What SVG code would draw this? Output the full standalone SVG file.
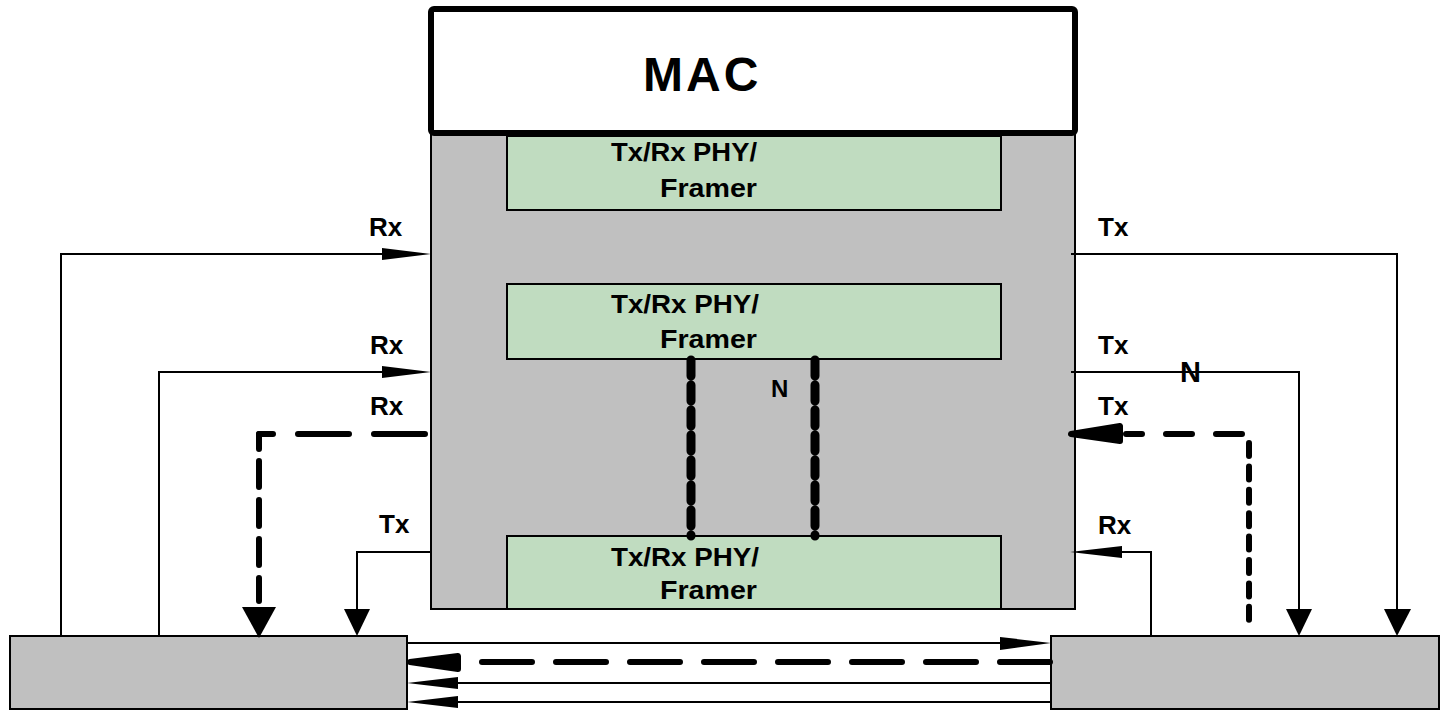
<svg xmlns="http://www.w3.org/2000/svg" width="1441" height="710" viewBox="0 0 1441 710">
<style>
.t{font-family:"Liberation Sans",Arial,sans-serif;font-weight:bold;fill:#000}
.lbl{font-size:26px}
.box{font-size:26px}
.gray{fill:#c0c0c0;stroke:#000;stroke-width:2}
.green{fill:#c0dcc0;stroke:#000;stroke-width:2}
.ln{fill:none;stroke:#000;stroke-width:2}
.dash{fill:none;stroke:#000;stroke-width:6;stroke-linecap:round}
.bead{fill:none;stroke:#000;stroke-width:9;stroke-linecap:round;stroke-dasharray:16 9}
.ah{fill:#000;stroke:none}
.ahr{fill:#000;stroke:#000;stroke-width:6;stroke-linejoin:round}
</style>
<rect width="1441" height="710" fill="#fff"/>
<g id="phy-container">
<rect class="gray" x="431" y="120" width="644" height="489"/>
</g>
<g id="mac">
<rect x="431" y="9" width="644" height="124" rx="3" fill="#fff" stroke="#000" stroke-width="6"/>
<text class="t" x="643" y="91" font-size="48" letter-spacing="3">MAC</text>
</g>
<g id="phy1">
<rect class="green" x="507" y="136" width="494" height="74"/>
<text class="t box" x="611" y="161" textLength="146" lengthAdjust="spacingAndGlyphs">Tx/Rx PHY/</text>
<text class="t box" x="660" y="197" textLength="97" lengthAdjust="spacingAndGlyphs">Framer</text>
</g>
<g id="phy2">
<rect class="green" x="507" y="284" width="494" height="75"/>
<text class="t box" x="611" y="313" textLength="148" lengthAdjust="spacingAndGlyphs">Tx/Rx PHY/</text>
<text class="t box" x="660" y="348" textLength="97" lengthAdjust="spacingAndGlyphs">Framer</text>
</g>
<g id="phy3">
<rect class="green" x="507" y="536" width="494" height="73"/>
<text class="t box" x="611" y="566" textLength="148" lengthAdjust="spacingAndGlyphs">Tx/Rx PHY/</text>
<text class="t box" x="660" y="599" textLength="97" lengthAdjust="spacingAndGlyphs">Framer</text>
</g>
<g id="left-box">
<rect class="gray" x="10" y="636" width="397" height="73"/>
</g>
<g id="right-box">
<rect class="gray" x="1051" y="636" width="388" height="73"/>
</g>
<g id="connectors">
<path class="ln" d="M61,636 V254 H384"/>
<polygon class="ah" points="382,248 382,260 431,254"/>
<path class="ln" d="M159,636 V372 H384"/>
<polygon class="ah" points="382,366 382,378 431,372"/>
<path class="dash" d="M425,434 H259" stroke-dasharray="51 25"/>
<path class="dash" d="M259,434 V601" stroke-dasharray="15 12 26 13 26 13 26 13 23 100"/>
<polygon class="ah" points="242,607 276,607 259,638" stroke="#000" stroke-width="2" stroke-linejoin="round"/>
<path class="ln" d="M431,552 H357 V611"/>
<polygon class="ah" points="344,609 370,609 357,636"/>
<path class="ln" d="M1071,254 H1397 V611"/>
<polygon class="ah" points="1384,609 1411,609 1397,636"/>
<path class="ln" d="M1071,372 H1299 V611"/>
<polygon class="ah" points="1286,609 1312,609 1299,636"/>
<path class="dash" d="M1249,443 V630" stroke-dasharray="13 10.4"/>
<path class="dash" d="M1242,434 H1126" stroke-dasharray="26 24"/>
<polygon class="ahr" points="1120,426 1120,441 1071,434"/>
<path class="ln" d="M1151,636 V552 H1120"/>
<polygon class="ah" points="1122,546 1122,558 1070,552"/>
<path class="bead" d="M691,360 V536"/>
<path class="bead" d="M815,360 V536"/>
<path class="ln" d="M407,643 H1003"/>
<polygon class="ah" points="1000,637 1000,650 1051,643"/>
<path class="dash" d="M1050,662 H464" stroke-dasharray="50 24"/>
<polygon class="ahr" points="458,656 458,669 410,662"/>
<path class="ln" d="M1051,683 H455"/>
<polygon class="ah" points="458,677 458,689 407,683"/>
<path class="ln" d="M1051,702 H455"/>
<polygon class="ah" points="458,696 458,708 407,702"/>
</g>
<g id="labels">
<text class="t lbl" x="369" y="236">Rx</text>
<text class="t lbl" x="370" y="354">Rx</text>
<text class="t lbl" x="370" y="415">Rx</text>
<text class="t lbl" x="379" y="533">Tx</text>
<text class="t lbl" x="1098" y="236">Tx</text>
<text class="t lbl" x="1098" y="354">Tx</text>
<text class="t lbl" x="1098" y="415">Tx</text>
<text class="t lbl" x="1098" y="534">Rx</text>
<text class="t" x="1180" y="382" font-size="29">N</text>
<text class="t" x="771" y="397" font-size="24">N</text>
</g>
</svg>
